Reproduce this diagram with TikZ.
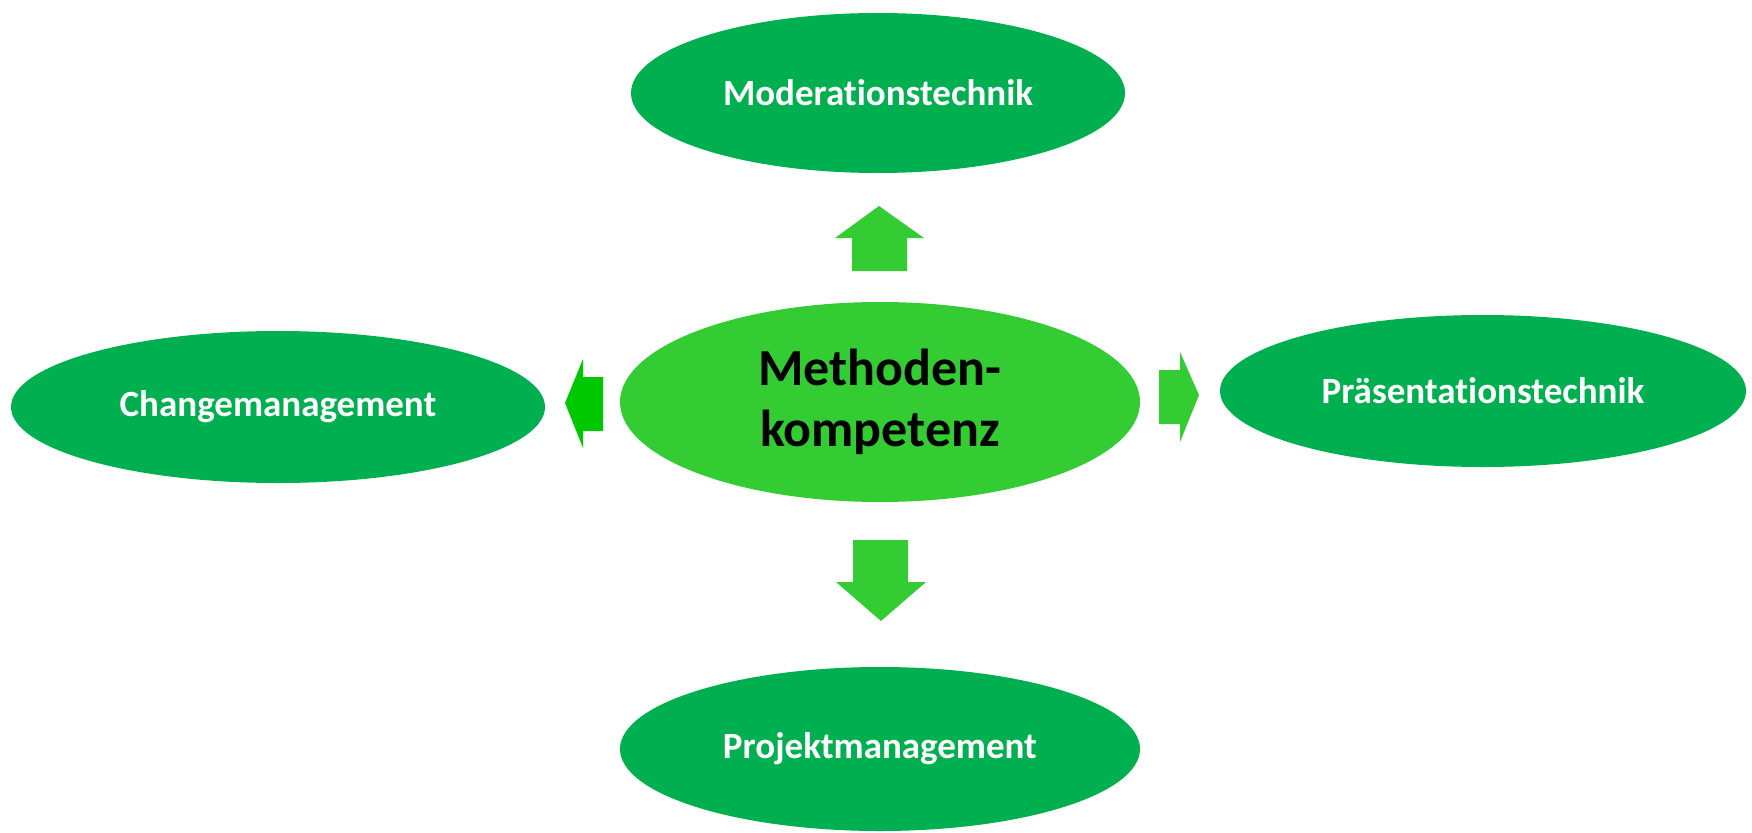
\documentclass[tikz,border=0pt]{standalone}
\usepackage{fontspec}
\setmainfont[Ligatures=NoCommon]{Carlito}
\usetikzlibrary{shapes.geometric}
\definecolor{outer}{HTML}{00B050}
\definecolor{inner}{HTML}{33CC33}
\definecolor{leftarr}{HTML}{00C800}
\tikzset{
  outerell/.style={ellipse, fill=outer, inner sep=0pt, text=white, font=\fontsize{37}{44}\selectfont\bfseries},
  innerell/.style={ellipse, fill=inner, inner sep=0pt, text=black, align=center, font=\fontsize{52}{61}\selectfont\bfseries},
  blockarrow/.style={fill=inner}
}
\begin{document}
\begin{tikzpicture}[x=1pt,y=-1pt]
\useasboundingbox (0,0) rectangle (1752,832);
\node[outerell, minimum width=494pt, minimum height=160pt] (mod) at (878,93) {Moderationstechnik};
\node[innerell, minimum width=520pt, minimum height=200pt] (met) at (880,402) {Methoden-\\kompetenz};
\node[outerell, minimum width=534pt, minimum height=152pt] (chg) at (278,407) {Changemanagement};
\node[outerell, minimum width=526pt, minimum height=152pt] (pre) at (1483,391) {Präsentationstechnik};
\node[outerell, minimum width=520pt, minimum height=164pt] (prj) at (880,749) {Projektmanagement};
% up arrow
\fill[blockarrow] (879,206) -- (924,238) -- (907,238) -- (907,271) -- (852,271) -- (852,238) -- (835,238) -- cycle;
% down arrow
\fill[blockarrow] (881,621) -- (926,582) -- (908,582) -- (908,540) -- (853,540) -- (853,582) -- (836,582) -- cycle;
% left arrow
\fill[leftarr] (565,403) -- (583,359) -- (583,377) -- (603,377) -- (603,431) -- (583,431) -- (583,448) -- cycle;
% right arrow
\fill[blockarrow] (1199,395) -- (1180,352) -- (1180,370) -- (1159,370) -- (1159,424) -- (1180,424) -- (1180,442) -- cycle;
\end{tikzpicture}
\end{document}
